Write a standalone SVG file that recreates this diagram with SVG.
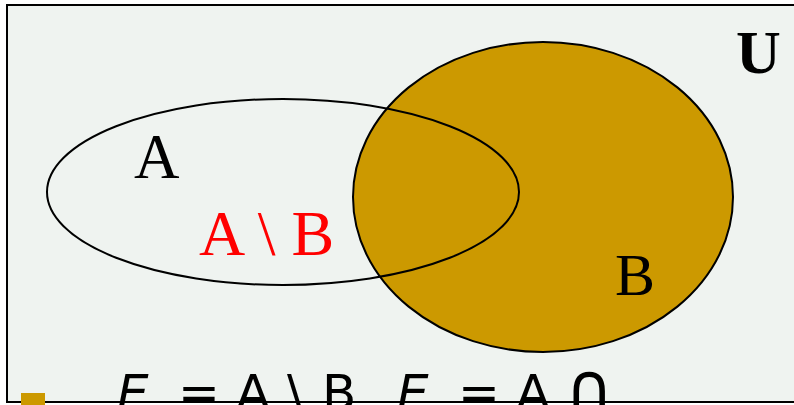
<svg xmlns="http://www.w3.org/2000/svg" width="794" height="405" viewBox="0 0 794 405">
<style>
.serif{font-family:"Liberation Serif","Times New Roman",serif}
.sans{font-family:"DejaVu Sans",Verdana,sans-serif}
.outline{stroke:#000;stroke-width:2}
</style>
<rect width="794" height="405" fill="#fff"/>
<rect id="universe" x="7" y="5" width="800" height="397" fill="#EFF3F0" stroke="#000" stroke-width="2"/>
<g id="setB">
<ellipse cx="543" cy="197" rx="190" ry="155" fill="#CC9900" class="outline"/>
</g>
<g id="setA">
<ellipse cx="283" cy="192" rx="236" ry="93" fill="none" class="outline"/>
</g>
<g id="labels">
<text x="134" y="178" class="serif" font-size="63" fill="#000">A</text>
<text x="199" y="255" class="serif" font-size="64" fill="#FF0000">A \ B</text>
<text x="615" y="295" class="serif" font-size="60" fill="#000">B</text>
<text x="736" y="73" class="serif" font-size="62" font-weight="bold" fill="#000">U</text>
</g>
<rect id="bullet" x="21" y="393" width="24" height="12" fill="#CC9900"/>
<text y="410" class="sans" font-size="50" fill="#000"><tspan x="117" font-style="italic">E</tspan><tspan x="178">=</tspan><tspan x="236">A</tspan><tspan x="287">\</tspan><tspan x="322">B</tspan><tspan x="397" font-style="italic">E</tspan><tspan x="458">=</tspan><tspan x="516">A</tspan><tspan x="565" font-size="66">∩</tspan></text>
</svg>
